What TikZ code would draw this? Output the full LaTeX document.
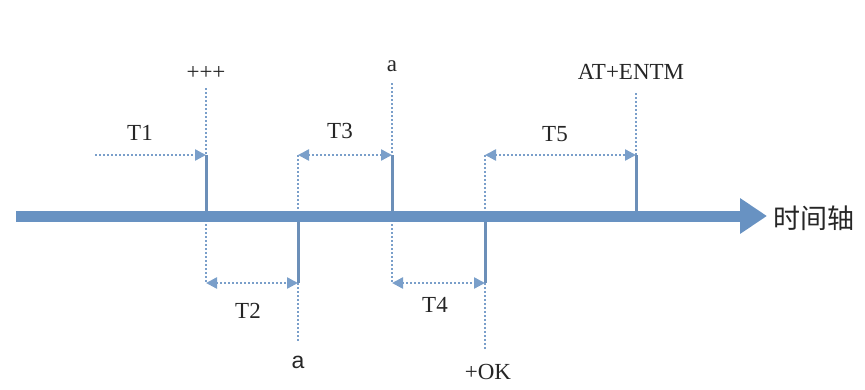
\documentclass[tikz,border=0pt]{standalone}
\usepackage{fontspec}
\setmainfont{Liberation Serif}
\newfontfamily\cjk{Noto Sans CJK SC}
\newfontfamily\sansf{Liberation Sans}
\usetikzlibrary{arrows.meta}
\definecolor{axisblue}{HTML}{6892C2}
\definecolor{dotblue}{HTML}{7A9FCA}
\begin{document}
\begin{tikzpicture}[x=1pt,y=-1pt,
  lbl/.style={font=\fontsize{23}{25}\selectfont, text=black!85, inner sep=0pt},
  solidv/.style={draw=axisblue!85!gray, line width=3pt},
  dotv/.style={draw=dotblue, line width=2.4pt, dash pattern=on 1.8pt off 2.2pt},
  tarr/.style={dotv, {Triangle[length=11pt,width=11pt]}-{Triangle[length=11pt,width=11pt]}},
  rarr/.style={dotv, -{Triangle[length=11pt,width=11pt]}},
  axisline/.style={draw=axisblue, line width=11pt, -{Triangle[length=27pt,width=34pt]}}
]
\useasboundingbox (0,0) rectangle (865,389);
% coordinates
\coordinate (ax0) at (16,216);
\coordinate (ax1) at (767,216);
\foreach \n/\x in {A/206,B/298,C/392,D/485,E/636}{
  \coordinate (\n hi) at (\x,155);
  \coordinate (\n mid) at (\x,216);
  \coordinate (\n lo) at (\x,283);
}
\coordinate (Atop) at (206,88);
\coordinate (Ctop) at (392,83);
\coordinate (Etop) at (636,93);
\coordinate (Bbot) at (298,342);
\coordinate (Dbot) at (485,350);
\coordinate (T1start) at (95,155);
% vertical lines
\draw[dotv] (Atop) -- (Ahi);
\draw[solidv] (Ahi) -- (Amid);
\draw[dotv] (Amid) -- (Alo);
\draw[dotv] (Bhi) -- (Bmid);
\draw[solidv] (Bmid) -- (Blo);
\draw[dotv] (Blo) -- (Bbot);
\draw[dotv] (Ctop) -- (Chi);
\draw[solidv] (Chi) -- (Cmid);
\draw[dotv] (Cmid) -- (Clo);
\draw[dotv] (Dhi) -- (Dmid);
\draw[solidv] (Dmid) -- (Dlo);
\draw[dotv] (Dlo) -- (Dbot);
\draw[dotv] (Etop) -- (Ehi);
\draw[solidv] (Ehi) -- (Emid);
% axis
\draw[axisline] (ax0) -- (ax1);
\node[anchor=west, inner sep=0pt, font=\cjk\fontsize{27}{29}\selectfont, text=black!85] (axl) at (773,218) {时间轴};
% interval arrows
\draw[rarr] (T1start) -- (Ahi);
\draw[tarr] (Alo) -- (Blo);
\draw[tarr] (Bhi) -- (Chi);
\draw[tarr] (Clo) -- (Dlo);
\draw[tarr] (Dhi) -- (Ehi);
% labels
\node[lbl] (t1) at (140,133) {T1};
\node[lbl] (t2) at (248,311) {T2};
\node[lbl] (t3) at (340,131) {T3};
\node[lbl] (t4) at (435,305) {T4};
\node[lbl] (t5) at (555,134) {T5};
\node[lbl] (ppp) at (206,73) {+++};
\node[lbl] (atop) at (392,66) {a};
\node[lbl, font=\sansf\fontsize{23}{25}\selectfont] (abot) at (298,362) {a};
\node[lbl] (ok) at (488,372) {+OK};
\node[lbl] (entm) at (631,72) {AT+ENTM};
\end{tikzpicture}
\end{document}
